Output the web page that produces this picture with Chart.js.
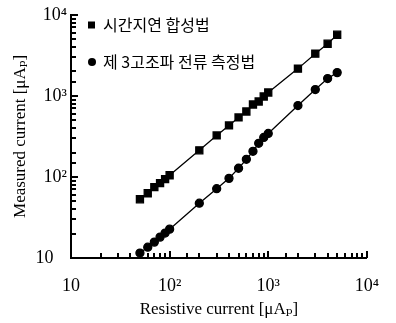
<!DOCTYPE html>
<html>
<head>
<meta charset="utf-8">
<script src="https://cdn.jsdelivr.net/npm/chart.js@4"></script>
<style>
  html, body { margin: 0; padding: 0; background: #fff; }
</style>
</head>
<body>
<canvas id="chart" width="396" height="323"></canvas>
<script>
// resistive current [uAp]
var resistive = [50, 60, 70, 80, 90, 100, 200, 300, 400, 500, 600, 700, 800, 900, 1000, 2000, 3000, 4000, 5000];
// measured current, time delay synthesis method
var timeDelay = [53, 63, 75, 84, 94, 105, 213, 325, 432, 542, 642, 783, 851, 982, 1099, 2168, 3317, 4400, 5680];
// measured current, 3rd harmonic current method
var thirdHarmonic = [11.5, 13.6, 15.7, 18.1, 20.3, 22.7, 47.4, 71.6, 96, 128, 165, 207, 260, 307, 344, 760, 1197, 1635, 1937];

var seriesNames = ['시간지연 합성법', '제 3고조파 전류 측정법'];
var decadeLabels = { 10: '10', 100: '10²', 1000: '10³', 10000: '10⁴' };

function points(ys) {
  return resistive.map(function (x, i) { return { x: x, y: ys[i] }; });
}

// inward tick marks, drawn from each scale's own tick list
var innerTicks = {
  id: 'innerTicks',
  afterDraw: function (chart) {
    var c = chart.ctx;
    var xs = chart.scales.x, ys = chart.scales.y;
    var area = chart.chartArea;
    c.save();
    c.fillStyle = '#000';
    xs.ticks.forEach(function (t) {
      var px = Math.round(xs.getPixelForValue(t.value));
      var len = decadeLabels[t.value] ? 7 : 5;
      c.fillRect(px - 1, area.bottom - len, 2, len);
    });
    ys.ticks.forEach(function (t) {
      var py = Math.round(ys.getPixelForValue(t.value));
      var len = decadeLabels[t.value] ? 7 : 5;
      c.fillRect(area.left, py - 1, len, 2);
    });
    c.restore();
  }
};

// legend in upper left of the plot
var cornerLegend = {
  id: 'cornerLegend',
  afterDraw: function (chart) {
    var c = chart.ctx;
    var rows = [25, 62];
    c.save();
    c.fillStyle = '#000';
    c.font = '16px "Noto Sans CJK KR"';
    c.textBaseline = 'middle';
    chart.data.datasets.forEach(function (ds, i) {
      var y = rows[i];
      if (ds.pointStyle === 'rect') {
        c.fillRect(88, y - 3.5, 7, 7);
      } else {
        c.beginPath();
        c.arc(92, y, 4, 0, Math.PI * 2);
        c.fill();
      }
      c.fillText(ds.label, 103, y);
    });
    c.restore();
  }
};

var tickFont = { family: '"Liberation Serif", "DejaVu Serif", serif', size: 18 };
var titleFont = { family: '"Liberation Serif", "DejaVu Serif", serif', size: 17 };

new Chart(document.getElementById('chart'), {
  type: 'line',
  data: {
    datasets: [{
      label: seriesNames[0],
      data: points(timeDelay),
      borderColor: '#000',
      backgroundColor: '#000',
      borderWidth: 1.3,
      pointStyle: 'rect',
      pointRadius: 5,
      tension: 0
    }, {
      label: seriesNames[1],
      data: points(thirdHarmonic),
      borderColor: '#000',
      backgroundColor: '#000',
      borderWidth: 1.3,
      pointStyle: 'circle',
      pointRadius: 4,
      tension: 0
    }]
  },
  options: {
    responsive: false,
    animation: false,
    layout: { padding: { top: 14, right: 13, left: 0, bottom: 0 } },
    plugins: { legend: { display: false }, tooltip: { enabled: false } },
    scales: {
      x: {
        type: 'logarithmic',
        min: 10,
        max: 10000,
        afterFit: function (s) { s.height = 65; },
        grid: { display: false, drawTicks: false },
        border: { display: true, color: '#000', width: 2 },
        ticks: {
          autoSkip: false,
          maxRotation: 0,
          color: '#000',
          font: tickFont,
          padding: 17,
          callback: function (v) { return decadeLabels[v] || ''; }
        },
        title: {
          display: true,
          text: 'Resistive current [μAₚ]',
          color: '#000',
          font: titleFont,
          padding: { top: 0, bottom: 3 }
        }
      },
      y: {
        type: 'logarithmic',
        min: 10,
        max: 10000,
        afterFit: function (s) { s.width = 71; },
        grid: { display: false, drawTicks: false },
        border: { display: true, color: '#000', width: 2 },
        ticks: {
          autoSkip: false,
          color: '#000',
          font: tickFont,
          padding: 4,
          callback: function (v) {
            if (!decadeLabels[v]) return '';
            return v === 10 ? '10   ' : decadeLabels[v];
          }
        },
        title: {
          display: true,
          text: 'Measured current [μAₚ]',
          color: '#000',
          font: titleFont,
          padding: { top: 10, bottom: 0 }
        }
      }
    }
  },
  plugins: [innerTicks, cornerLegend]
});
</script>
</body>
</html>
